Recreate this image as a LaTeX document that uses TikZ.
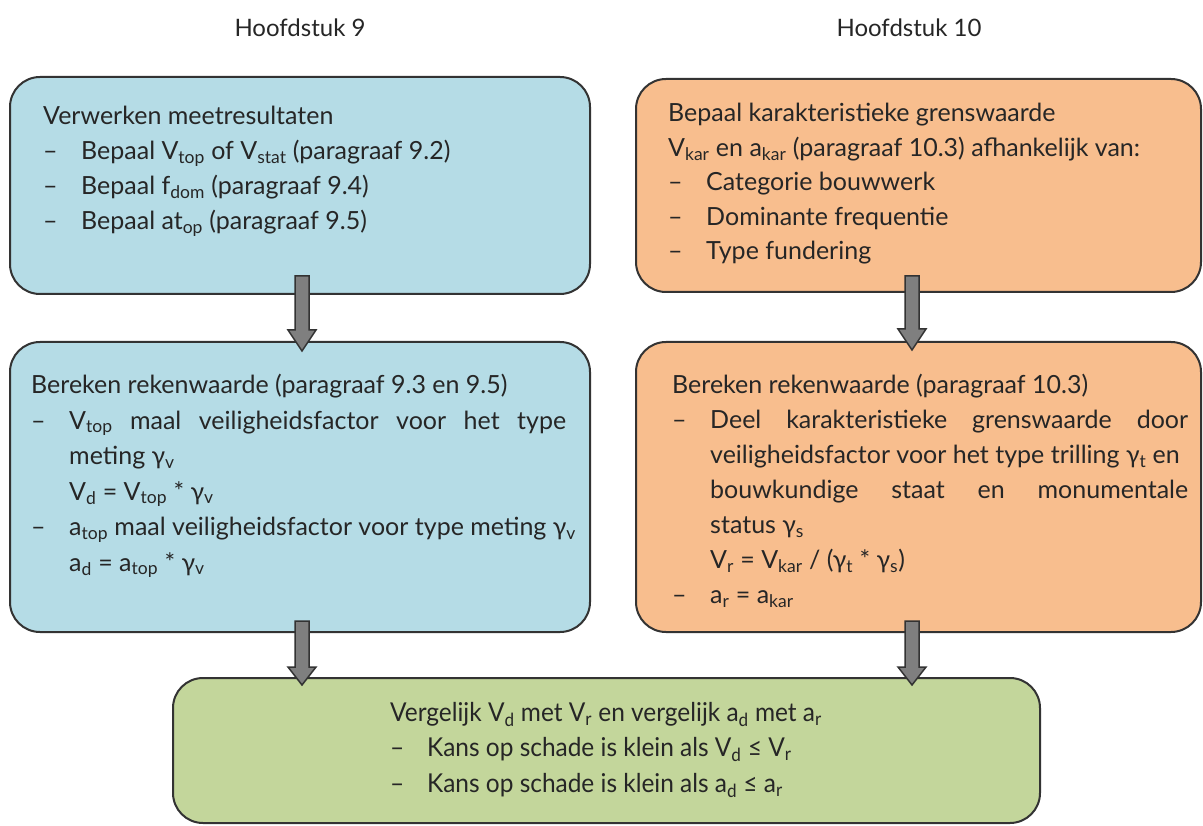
\documentclass[tikz,border=0pt]{standalone}
\usepackage{fontspec}
\setmainfont{Lato}
\newfontfamily\condfont[FakeStretch=0.94]{Lato}
\usetikzlibrary{calc}
\definecolor{bluefill}{HTML}{B5DCE6}
\definecolor{orangefill}{HTML}{F8BE8E}
\definecolor{greenfill}{HTML}{C3D69B}
\definecolor{edgecol}{HTML}{333333}
\definecolor{txtcol}{HTML}{262626}
\definecolor{arrfill}{HTML}{7F7F7F}
\newcommand\sub[1]{\textsubscript{#1}}
\newcommand\dsh{\makebox[38pt][l]{–}}
\newcommand\ind{\hspace*{38pt}}
\newcommand\blockarrow[3]{% start, tip, head length
  \draw[blockarrowstyle] ($(#1)+(-7,0)$) -- ($(#2)+(-7,-#3)$) -- ($(#2)+(-14,-#3)$) -- (#2)
    -- ($(#2)+(14,-#3)$) -- ($(#2)+(7,-#3)$) -- ($(#1)+(7,0)$) -- cycle;}
\begin{document}
\begin{tikzpicture}[x=1pt,y=-1pt,
  box/.style={draw=edgecol, line width=2pt, rounded corners=30pt, inner sep=0pt},
  txtnode/.style={anchor=north west, inner sep=0pt, align=left, text=txtcol, font=\fontsize{25}{35}\selectfont},
  header/.style={inner sep=0pt, text=txtcol, font=\fontsize{24}{28}\selectfont},
  blockarrowstyle/.style={draw=edgecol, fill=arrfill, line width=1.5pt, line join=miter}]
\useasboundingbox (0,0) rectangle (1203,826);
\fill[white] (0,0) rectangle (1203,826);

\node[header] (h9) at (300,28) {Hoofdstuk 9};
\node[header] (h10) at (909,28) {Hoofdstuk 10};

\node[box, fill=bluefill, minimum width=580pt, minimum height=217pt] (b1) at (300,185.5) {};
\node[box, fill=orangefill, minimum width=565pt, minimum height=213pt] (o1) at (918.5,185.5) {};
\node[box, fill=bluefill, minimum width=580pt, minimum height=290pt] (b2) at (300,487) {};
\node[box, fill=orangefill, minimum width=565pt, minimum height=290pt] (o2) at (918.5,487) {};
\node[box, fill=greenfill, minimum width=867pt, minimum height=145pt] (g) at (606.5,750.5) {};

\coordinate (a1s) at ($(b1.south)+(2,-19)$);
\coordinate (a1e) at ($(a1s |- b2.north)+(0,10)$);
\coordinate (a2s) at ($(o1.south)+(-6.5,-17)$);
\coordinate (a2e) at ($(a2s |- o2.north)+(0,9)$);
\coordinate (a3s) at ($(b2.south)+(2,-12)$);
\coordinate (a3e) at ($(a3s |- g.north)+(0,8)$);
\coordinate (a4s) at ($(o2.south)+(-6.5,-12)$);
\coordinate (a4e) at ($(a4s |- g.north)+(0,8)$);
\blockarrow{a1s}{a1e}{21}
\blockarrow{a2s}{a2e}{21}
\blockarrow{a3s}{a3e}{18}
\blockarrow{a4s}{a4e}{18}

\node[txtnode] (t1) at (43,106) {Verwerken meetresultaten\\
\dsh Bepaal V\sub{top} of V\sub{stat} (paragraaf 9.2)\\
\dsh Bepaal f\sub{dom} (paragraaf 9.4)\\
\dsh Bepaal at\sub{op} (paragraaf 9.5)};

\node[txtnode, font=\fontsize{25}{34.5}\selectfont] (t2) at (668,103) {Bepaal karakteristieke grenswaarde\\
V\sub{kar} en a\sub{kar} (paragraaf 10.3) afhankelijk van:\\
\dsh Categorie bouwwerk\\
\dsh Dominante frequentie\\
\dsh Type fundering};

\node[txtnode, font=\fontsize{25}{35.5}\selectfont] (t3) at (31,374) {Bereken rekenwaarde (paragraaf 9.3 en 9.5)\\
\dsh\makebox[497pt][s]{V\sub{top} maal veiligheidsfactor voor het type}\\
\ind meting γ\sub{v}\\
\ind V\sub{d} = V\sub{top} * γ\sub{v}\\
\dsh a\sub{top} maal veiligheidsfactor voor type meting γ\sub{v}\\
\ind a\sub{d} = a\sub{top} * γ\sub{v}};

\node[txtnode] (t4) at (672,374) {Bereken rekenwaarde (paragraaf 10.3)\\
\dsh\makebox[478pt][s]{Deel karakteristieke grenswaarde door}\\
\ind veiligheidsfactor voor het type trilling γ\sub{t} en\\
\ind\makebox[478pt][s]{bouwkundige staat en monumentale}\\
\ind status γ\sub{s}\\
\ind V\sub{r} = V\sub{kar} / (γ\sub{t} * γ\sub{s})\\
\dsh a\sub{r} = a\sub{kar}};

\node[txtnode, font=\condfont\fontsize{26}{35.5}\selectfont] (t5) at (390,702) {Vergelijk V\sub{d} met V\sub{r} en vergelijk a\sub{d} met a\sub{r}\\
\makebox[37pt][l]{–}Kans op schade is klein als V\sub{d} ≤ V\sub{r}\\
\makebox[37pt][l]{–}Kans op schade is klein als a\sub{d} ≤ a\sub{r}};
\end{tikzpicture}
\end{document}
